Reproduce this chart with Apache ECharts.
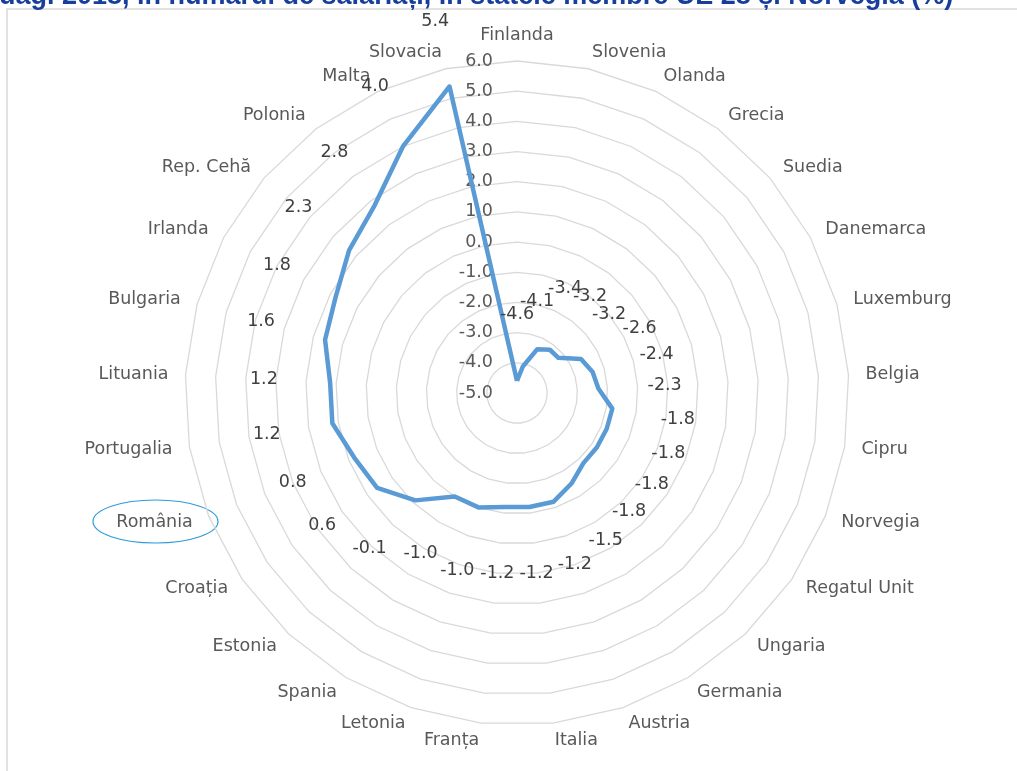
<!DOCTYPE html>
<html>
<head>
<meta charset="utf-8">
<script src="https://cdn.jsdelivr.net/npm/echarts@6/dist/echarts.min.js"></script>
<style>
  html, body { margin: 0; padding: 0; background: #fff; }
  #chart { width: 1017px; height: 771px; }
</style>
</head>
<body>
<div id="chart"></div>
<script>
// categories in clockwise order, starting at the top
const countries = ['Finlanda', 'Slovenia', 'Olanda', 'Grecia', 'Suedia', 'Danemarca', 'Luxemburg',
  'Belgia', 'Cipru', 'Norvegia', 'Regatul Unit', 'Ungaria', 'Germania', 'Austria', 'Italia',
  'Franța', 'Letonia', 'Spania', 'Estonia', 'Croația', 'România', 'Portugalia', 'Lituania',
  'Bulgaria', 'Irlanda', 'Rep. Cehă', 'Polonia', 'Malta', 'Slovacia']
const values = [-4.6, -4.1, -3.4, -3.2, -3.2, -2.6, -2.4,
  -2.3, -1.8, -1.8, -1.8, -1.8, -1.5, -1.2, -1.2,
  -1.2, -1.0, -1.0, -0.1, 0.6, 0.8, 1.2, 1.2,
  1.6, 1.8, 2.3, 2.8, 4.0, 5.4]
const axisMin = -5
const axisMax = 6
const labelShift = 2.2 // data labels sit this far (in axis units) outside their point

const titleText = 'uagi 2018, în numărul de salariați, în statele membre UE 28 și Norvegia (%)'

// echarts lays indicators out counter-clockwise, the picture goes clockwise
const order = [0]
for (let i = countries.length - 1; i > 0; i--) order.push(i)
const names = order.map(i => countries[i])
const vals = order.map(i => values[i])

const font = 'DejaVu Sans'
const center = [517, 393]
const radius = 332

const myChart = echarts.init(document.getElementById('chart'))
const option = {
  animation: false,
  graphic: [
    {
      type: 'rect',
      shape: { x: 7, y: 9, width: 1100, height: 900 },
      style: { fill: 'none', stroke: '#D9D9D9', lineWidth: 1.5 },
      silent: true
    },
    {
      type: 'text',
      x: -1,
      y: -17,
      style: {
        text: titleText,
        fill: '#173E9C',
        font: 'bold 27px "Liberation Sans"',
        textAlign: 'left',
        textVerticalAlign: 'top'
      }
    },
    {
      type: 'ellipse',
      shape: { cx: 155.5, cy: 521.5, rx: 62.5, ry: 21.5 },
      style: { fill: 'none', stroke: '#2E9BDB', lineWidth: 1.2 },
      silent: true
    }
  ],
  radar: [
    {
      center: center,
      radius: radius,
      startAngle: 90,
      splitNumber: 11,
      shape: 'polygon',
      indicator: names.map((name, i) => {
        const ind = { name: name, min: axisMin, max: axisMax }
        if (i === 0) {
          ind.axisLabel = {
            show: true,
            color: '#595959',
            fontSize: 17.5,
            fontFamily: font,
            margin: 24,
            formatter: v => (+v).toFixed(1)
          }
        }
        return ind
      }),
      axisName: { color: '#595959', fontSize: 17.5, fontFamily: font },
      nameGap: 17,
      splitLine: { lineStyle: { color: '#D9D9D9', width: 1.3 } },
      splitArea: { show: false },
      axisLine: { show: false },
      axisTick: { show: false },
      axisLabel: { show: false }
    },
    {
      center: center,
      radius: radius,
      startAngle: 90,
      splitNumber: 11,
      shape: 'polygon',
      indicator: names.map(name => ({ name: name, min: axisMin - labelShift, max: axisMax - labelShift })),
      axisName: { show: false },
      splitLine: { show: false },
      splitArea: { show: false },
      axisLine: { show: false },
      axisTick: { show: false },
      axisLabel: { show: false }
    }
  ],
  series: [
    {
      type: 'radar',
      radarIndex: 0,
      symbol: 'none',
      silent: true,
      lineStyle: { color: '#5B9BD5', width: 4.5, join: 'round' },
      data: [{ value: vals }]
    },
    {
      type: 'radar',
      radarIndex: 1,
      symbol: 'circle',
      symbolSize: 1,
      silent: true,
      itemStyle: { color: 'rgba(0,0,0,0)' },
      lineStyle: { opacity: 0 },
      label: {
        show: true,
        position: 'inside',
        color: '#404040',
        fontSize: 17.5,
        fontFamily: font,
        formatter: function (p) {
          const v = Array.isArray(p.value) ? p.value[p.dimensionIndex] : p.value
          return (+v).toFixed(1)
        }
      },
      data: [{ value: vals }]
    }
  ]
}
myChart.setOption(option)
window.addEventListener('resize', function () {
  myChart.resize()
})
</script>
</body>
</html>
